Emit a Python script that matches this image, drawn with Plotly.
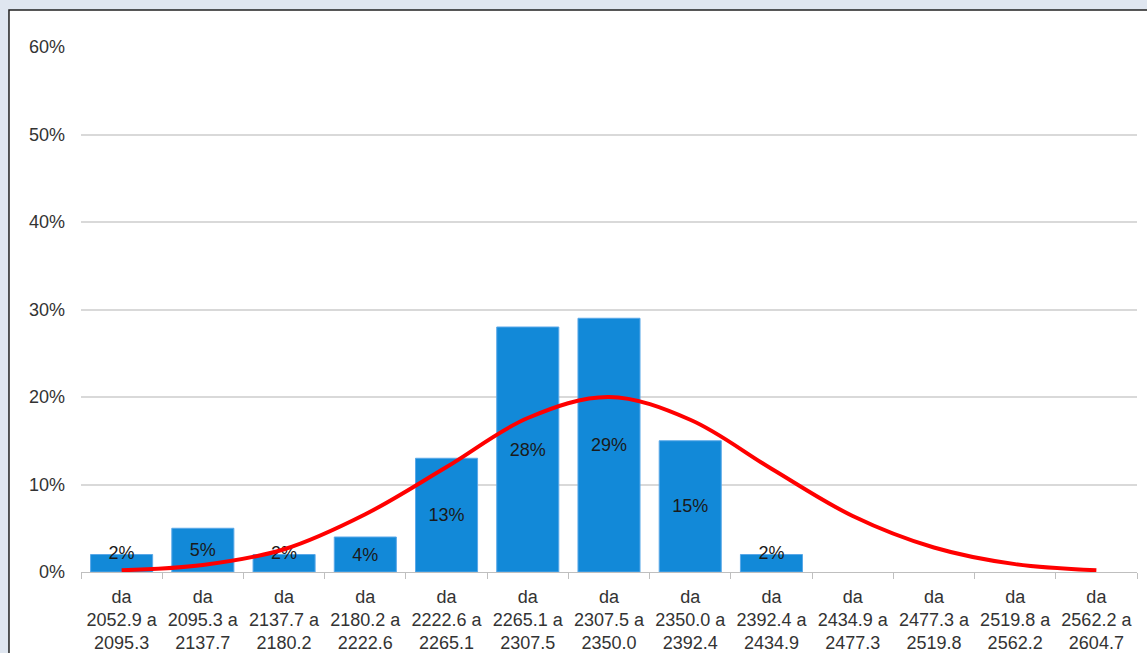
import plotly.graph_objects as go

bin_low = ["2052.9", "2095.3", "2137.7", "2180.2", "2222.6", "2265.1", "2307.5",
           "2350.0", "2392.4", "2434.9", "2477.3", "2519.8", "2562.2"]
bin_high = ["2095.3", "2137.7", "2180.2", "2222.6", "2265.1", "2307.5", "2350.0",
            "2392.4", "2434.9", "2477.3", "2519.8", "2562.2", "2604.7"]
freq_pct = [2, 5, 2, 4, 13, 28, 29, 15, 2, 0, 0, 0, 0]
normal_pct = [0.2, 0.8, 2.6, 6.6, 12.0, 17.6, 20.0, 17.4, 11.8, 6.4, 2.8, 0.9, 0.2]
y_ticks = [0, 10, 20, 30, 40, 50, 60]

categories = [f"da<br>{lo} a<br>{hi}" for lo, hi in zip(bin_low, bin_high)]
# labels of tall bars sit inside; labels of very short bars straddle the bar top
inner_text = [f"{v}%" if v >= 3 else "" for v in freq_pct]
small_x = [c for c, v in zip(categories, freq_pct) if 0 < v < 3]
small_y = [v for v in freq_pct if 0 < v < 3]
small_text = [f"{v}%" for v in small_y]

FONT = "Liberation Sans, Arial, sans-serif"
TXT = dict(family=FONT, size=18, color="#1a1a1a")

fig = go.Figure()
fig.add_trace(go.Bar(
    x=categories, y=freq_pct,
    text=inner_text, textposition="inside", insidetextanchor="middle",
    constraintext="none",
    textfont=TXT,
    marker=dict(color="#1289d8",
                line=dict(color="#5aa8e8", width=[1 if v > 0 else 0 for v in freq_pct])),
    hoverinfo="skip",
))
fig.add_trace(go.Scatter(
    x=small_x, y=small_y, text=small_text, mode="text",
    textposition="middle center", textfont=TXT, hoverinfo="skip", cliponaxis=False,
))
fig.add_trace(go.Scatter(
    x=categories, y=normal_pct, mode="lines",
    line=dict(color="#ff0000", width=4, shape="spline", smoothing=1.0),
    hoverinfo="skip",
))

fig.update_layout(
    width=1147, height=653,
    margin=dict(l=81, r=10, t=47, b=81),
    paper_bgcolor="#dfe6f0",
    plot_bgcolor="rgba(0,0,0,0)",
    showlegend=False,
    bargap=0.236,
    font=dict(family=FONT, size=18, color="#333333"),
    shapes=[dict(
        type="rect", xref="paper", yref="paper",
        x0=-0.0682, x1=1.05, y0=-0.3, y1=1.0705,
        fillcolor="white", line=dict(color="#202020", width=1.5),
        layer="below",
    )],
)
fig.update_xaxes(
    automargin=False,
    range=[-0.5, len(categories) - 0.5],
    showgrid=False, showline=True, linecolor="#bfbfbf", linewidth=1,
    ticks="outside", tickson="boundaries", ticklen=6, tickcolor="#bfbfbf",
    ticklabelstandoff=8,
    tickfont=dict(family=FONT, size=18, color="#333333"),
    tickangle=0,
)
fig.update_yaxes(
    automargin=False,
    range=[0, 60], tickvals=y_ticks, ticktext=[f"{t}%" for t in y_ticks],
    showgrid=True, gridcolor="#d9d9d9", gridwidth=1.5,
    zeroline=False, showline=False, ticks="", ticklabelstandoff=15,
    tickfont=dict(family=FONT, size=18, color="#333333"),
)

fig.write_html(
    "out.html",
    config={"displayModeBar": False},
    post_script="document.body.style.margin='0px';document.body.style.background='#dfe6f0';",
)
